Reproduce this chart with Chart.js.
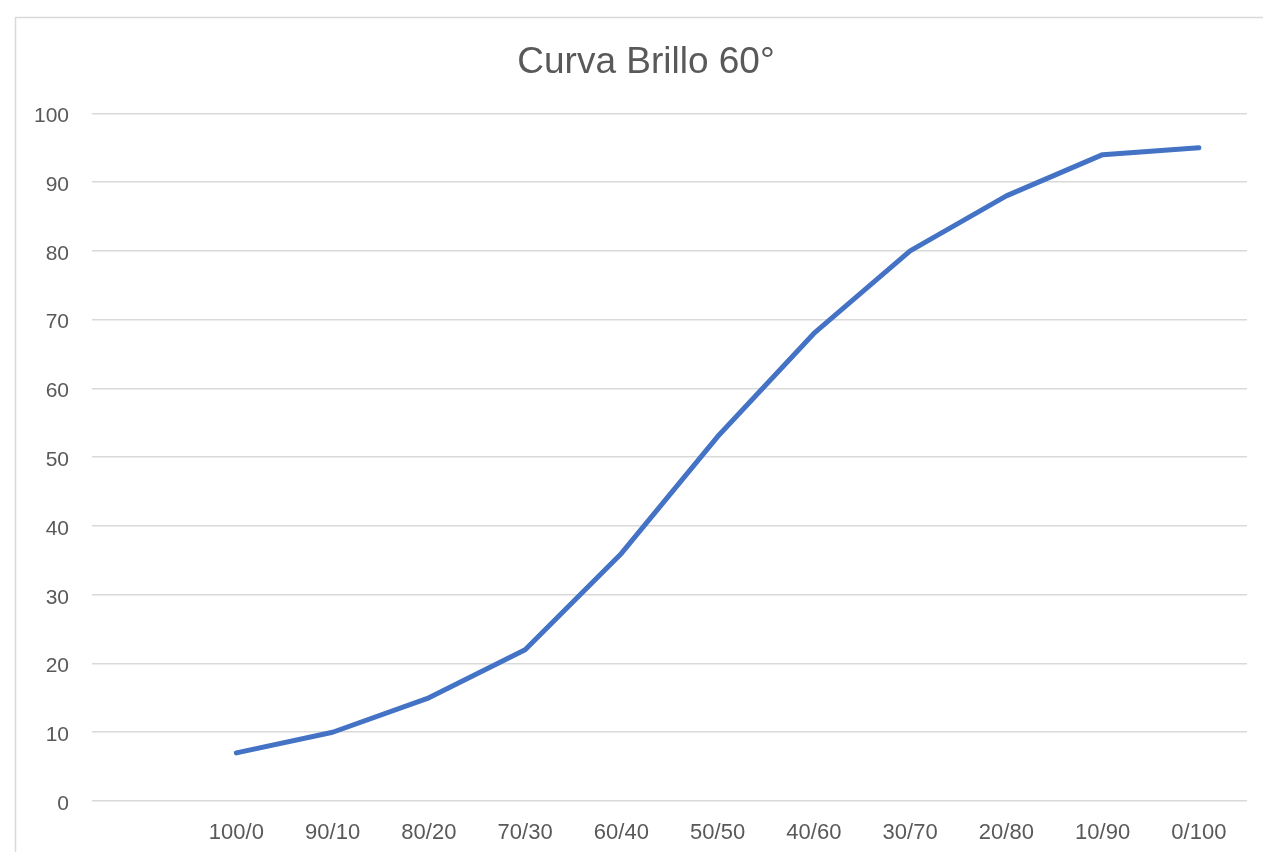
<!DOCTYPE html>
<html>
<head>
<meta charset="utf-8">
<script src="https://cdn.jsdelivr.net/npm/chart.js@4/dist/chart.umd.min.js"></script>
<style>
    html, body { margin: 0; padding: 0; background: #ffffff; overflow: hidden; }
    #wrap { position: relative; width: 1263px; height: 852px; }
</style>
</head>
<body>
<div id="wrap"><canvas id="chart" width="1263" height="852"></canvas></div>
<script>
// データ
const categories = ['', '100/0', '90/10', '80/20', '70/30', '60/40', '50/50', '40/60', '30/70', '20/80', '10/90', '0/100'];
const brillo = [null, 7, 10, 15, 22, 36, 53, 68, 80, 88, 94, 95];
const yTicks = [0, 10, 20, 30, 40, 50, 60, 70, 80, 90, 100];

const textColor = '#595959';
const gridColor = '#d9d9d9';

// 外枠（右下ははみ出し）＋タイトル位置の補正
const frame = {
    id: 'frame',
    afterLayout(chart) {
        // 元のグラフは枠全体の中央にタイトルがあるので少し右へ
        if (chart.titleBlock) chart.titleBlock.left += 30;
    },
    beforeDraw(chart) {
        const c = chart.ctx;
        c.save();
        c.fillStyle = '#ffffff';
        c.fillRect(0, 0, chart.width, chart.height);
        c.strokeStyle = gridColor;
        c.lineWidth = 1.5;
        c.strokeRect(15.5, 17.5, 1400, 1000);
        c.restore();
    }
};

new Chart(document.getElementById('chart').getContext('2d'), {
    type: 'line',
    data: {
        labels: categories,
        datasets: [{
            label: 'Brillo 60°',
            data: brillo,
            borderColor: '#4472C4',
            borderWidth: 5,
            borderCapStyle: 'round',
            borderJoinStyle: 'round',
            pointRadius: 0,
            tension: 0,
            fill: false
        }]
    },
    options: {
        responsive: false,
        animation: false,
        layout: { padding: { left: 15, right: 16, top: 17, bottom: 0 } },
        plugins: {
            legend: { display: false },
            tooltip: { enabled: false },
            title: {
                display: true,
                text: 'Curva Brillo 60°',
                color: textColor,
                font: { family: "'Liberation Sans', Arial, sans-serif", size: 37, weight: 'normal' },
                padding: { top: 24, bottom: 28 }
            }
        },
        scales: {
            x: {
                offset: true,
                grid: { display: false },
                border: { display: false },
                ticks: {
                    color: textColor,
                    font: { family: "'Liberation Sans', Arial, sans-serif", size: 22 },
                    padding: 11,
                    maxRotation: 0,
                    autoSkip: false
                },
                afterFit(scale) { scale.height = 51; }
            },
            y: {
                min: 0,
                max: 100,
                afterBuildTicks(scale) { scale.ticks = yTicks.map(v => ({ value: v })); },
                grid: { color: gridColor, lineWidth: 1.5, drawTicks: false },
                border: { display: false },
                ticks: {
                    color: textColor,
                    font: { family: "'Liberation Sans', Arial, sans-serif", size: 21 },
                    padding: 23,
                    labelOffset: 3
                },
                afterFit(scale) { scale.width = 77; }
            }
        }
    },
    plugins: [frame]
});
</script>
</body>
</html>
